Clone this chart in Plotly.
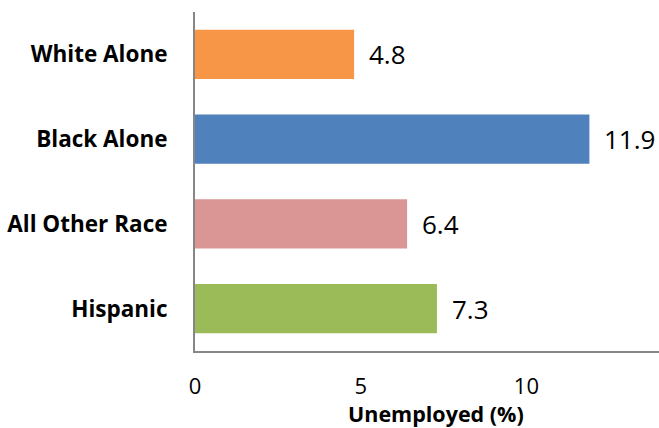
import plotly.graph_objects as go

categories = ["White Alone", "Black Alone", "All Other Race", "Hispanic"]
values = [4.8, 11.9, 6.4, 7.3]
colors = ["#F79646", "#4F81BD", "#D99694", "#9BBB59"]
x_ticks = [0, 5, 10]
x_title = "Unemployed (%)"

fig = go.Figure(go.Bar(
    x=values, y=categories, orientation="h",
    marker=dict(color=colors, line=dict(width=0)),
    width=0.58,
))

for v, c in zip(values, categories):
    fig.add_annotation(x=v, y=c, text=f"{v:.1f}", showarrow=False,
                       xanchor="left", xshift=13,
                       font=dict(family="Open Sans", size=26, color="#000000"))

fig.add_annotation(x=0.519, y=-0.185, xref="paper", yref="paper",
                   xanchor="center", yanchor="middle", text=f"<b>{x_title}</b>",
                   showarrow=False, font=dict(family="Open Sans", size=21.5, color="#000000"))

fig.update_layout(
    width=659, height=428,
    margin=dict(l=195, r=0, t=12, b=77, autoexpand=False),
    plot_bgcolor="white", paper_bgcolor="white",
    showlegend=False,
    xaxis=dict(range=[0, 14], tickvals=x_ticks, showgrid=False, zeroline=False,
               showline=True, linecolor="#868686", linewidth=2,
               ticks="outside", ticklen=15, tickcolor="rgba(0,0,0,0)",
               tickfont=dict(family="Open Sans", size=22, color="#000000")),
    yaxis=dict(categoryorder="array", categoryarray=categories[::-1],
               range=[-0.5, 3.5], showgrid=False, zeroline=False,
               showline=True, linecolor="#868686", linewidth=2,
               ticks="outside", ticklen=21, tickcolor="rgba(0,0,0,0)",
               tickfont=dict(family="Open Sans", size=22.5, color="#000000")),
)
fig.update_yaxes(tickprefix="<b>", ticksuffix="</b>")
fig.write_html("out.html",
               config={"displayModeBar": False},
               post_script="document.body.style.margin='0';document.body.style.overflow='hidden';")
